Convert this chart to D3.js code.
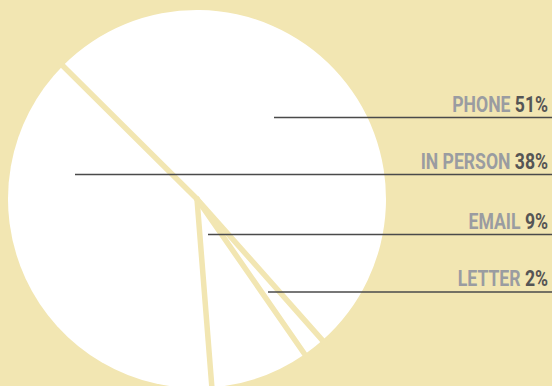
<!DOCTYPE html>
<html>
<head>
<meta charset="utf-8">
<script src="https://cdn.jsdelivr.net/npm/d3@7"></script>
<style>
  html, body { margin: 0; padding: 0; background: #f2e6b2; }
  svg { display: block; }
  text { font-family: "Roboto", "Liberation Sans", sans-serif; font-weight: bold; }
</style>
</head>
<body>
<svg id="chart" width="552" height="386"></svg>
<script>
// ---- data ----
const categories = ["PHONE", "LETTER", "EMAIL", "IN PERSON"];
const values = [51, 1.9, 8.4, 38.7];          // slice sizes as drawn
const valueLabels = ["51%", "2%", "9%", "38%"];

// ---- layout (label leader lines) ----
const leaderStart = [[274, 117.5], [268, 292], [208, 234.5], [75, 174.5]];

const W = 552, H = 386;
const cx = 197, cy = 199, R = 189;
const bg = "#f2e6b2";
const labelScaleX = 0.8;

const svg = d3.select("#chart");
svg.append("rect").attr("width", W).attr("height", H).attr("fill", bg);

const pie = d3.pie().sort(null).value(d => d)
  .startAngle(-45.2 * Math.PI / 180)
  .endAngle(314.8 * Math.PI / 180);
const arcs = pie(values);
const arc = d3.arc().innerRadius(0).outerRadius(R);

const g = svg.append("g").attr("transform", `translate(${cx},${cy})`);
g.selectAll("path.slice").data(arcs).join("path")
  .attr("class", "slice")
  .attr("d", arc)
  .attr("fill", "#ffffff");

// separators
g.selectAll("line.sep").data(arcs).join("line")
  .attr("class", "sep")
  .attr("x1", 0).attr("y1", 0)
  .attr("x2", d => d3.pointRadial(d.startAngle, R + 3)[0])
  .attr("y2", d => d3.pointRadial(d.startAngle, R + 3)[1])
  .attr("stroke", bg)
  .attr("stroke-width", 5.5)
  .attr("stroke-linecap", "round");

// leader lines
svg.selectAll("line.leader").data(arcs).join("line")
  .attr("class", "leader")
  .attr("x1", (d, i) => leaderStart[i][0])
  .attr("y1", (d, i) => leaderStart[i][1])
  .attr("x2", W)
  .attr("y2", (d, i) => leaderStart[i][1])
  .attr("stroke", "#4a4a4a")
  .attr("stroke-width", 1.3);

// labels
const lbl = svg.selectAll("text.lbl").data(arcs).join("text")
  .attr("class", "lbl")
  .attr("transform", (d, i) => `translate(548,${leaderStart[i][1] - 5.8}) scale(${labelScaleX},1)`)
  .attr("text-anchor", "end")
  .attr("font-size", 22);
lbl.append("tspan").attr("fill", "#9a9ca1").text((d, i) => categories[i] + " ");
lbl.append("tspan").attr("fill", "#555555").text((d, i) => valueLabels[i]);
</script>
</body>
</html>
